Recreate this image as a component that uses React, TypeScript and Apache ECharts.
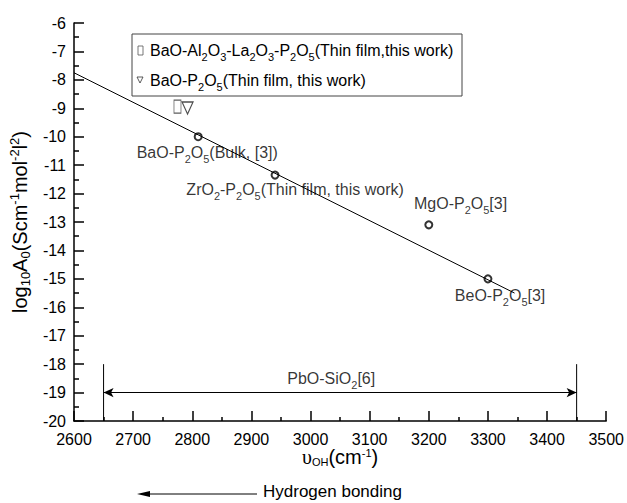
import React, { useEffect, useRef } from "react";
import * as echarts from "echarts";

// ---- data ----
const fitLine: number[][] = [
  [2600, -7.75],
  [3345, -15.5],
];
const pointX = [2810, 2940, 3200, 3300];
const pointY = [-10.0, -11.35, -13.1, -15.0];

const squareMark: number[][] = [[2775, -8.94]];
const triangleMark: number[][] = [[2792, -8.99]];

const labelTexts = [
  "BaO-P_2O_5(Bulk, [3])",
  "ZrO_2-P_2O_5(Thin film, this work)",
  "MgO-P_2O_5[3]",
  "BeO-P_2O_5[3]",
  "PbO-SiO_2[6]",
];
const labelX = [2706, 2790, 3175, 3244, 3035];
const labelY = [-10.57, -11.87, -12.36, -15.6, -18.52];

const rangeLeft: number[][] = [
  [2650, -18],
  [2650, -20],
];
const rangeRight: number[][] = [
  [3450, -18],
  [3450, -20],
];
const rangeArrowFrom = [2650, -19];
const rangeArrowTo = [3450, -19];

const legendTexts = [
  "BaO-Al_2O_3-La_2O_3-P_2O_5(Thin film,this work)",
  "BaO-P_2O_5(Thin film, this work)",
];
const yName = "log_{10}A_0(Scm^{-1}mol^{-2}l^2)";
const xNameSymbol = "υ";
const xNameRest = "_{OH}(cm^{-1})";
const bottomNote = "Hydrogen bonding";

// ---- helpers ----
function rich(src: string): string {
  let out = "";
  let buf = "";
  let i = 0;
  const flush = () => {
    if (buf) {
      out += `{m|${buf}}`;
      buf = "";
    }
  };
  while (i < src.length) {
    const c = src[i];
    if (c === "_" || c === "^") {
      flush();
      let t = "";
      if (src[i + 1] === "{") {
        const j = src.indexOf("}", i + 2);
        t = src.slice(i + 2, j);
        i = j + 1;
      } else {
        t = src[i + 1];
        i += 2;
      }
      out += `{${c === "_" ? "s" : "p"}|${t}}`;
    } else {
      buf += c;
      i++;
    }
  }
  flush();
  return out;
}

const FONT = "'Liberation Sans', Arial, sans-serif";
// lh: line box; offset: how far sub/sup centres shift from the main centre
function richStyles(main: number, small: number, lh: number, offset: number) {
  const subLh = lh - 2 * offset;
  return {
    m: { fontSize: main, fontFamily: FONT, color: "#000", lineHeight: lh, verticalAlign: "middle" },
    s: { fontSize: small, fontFamily: FONT, color: "#000", lineHeight: subLh, verticalAlign: "bottom" },
    p: { fontSize: small, fontFamily: FONT, color: "#000", lineHeight: subLh, verticalAlign: "top" },
    u: { fontSize: main, fontFamily: "'Liberation Serif', 'Times New Roman', serif", color: "#000", lineHeight: lh, verticalAlign: "middle" },
  };
}

export default function App() {
  const ref = useRef<HTMLDivElement>(null);

  useEffect(() => {
    if (!ref.current) return;
    const chart = echarts.init(ref.current, undefined, { renderer: "svg" });
    const labelRich = richStyles(16, 11, 24, 6.5);

    const labelData = labelTexts.map((t, i) => ({
      value: [labelX[i], labelY[i]],
      label: {
        show: true,
        formatter: rich(t),
        position: i === 4 ? "inside" : "right",
        distance: 0,
        align: i === 4 ? "center" : "left",
        verticalAlign: "middle",
        rich: labelRich,
      },
    }));

    const option: any = {
      animation: false,
      backgroundColor: "#fff",
      grid: { left: 74, right: 18, top: 23, bottom: 82, containLabel: false },
      xAxis: {
        type: "value",
        min: 2600,
        max: 3500,
        interval: 100,
        splitLine: { show: false },
        axisLine: { onZero: false, lineStyle: { color: "#000", width: 1.5 } },
        axisTick: { inside: true, length: 10, lineStyle: { color: "#000", width: 1.5 } },
        minorTick: { show: true, splitNumber: 2, length: 4, lineStyle: { color: "#000", width: 1.5 } },
        axisLabel: {
          color: "#000",
          fontSize: 16,
          fontFamily: FONT,
          margin: 10,
          formatter: (v: number) => String(v),
        },
        name: `{u|${xNameSymbol}}` + rich(xNameRest),
        nameLocation: "middle",
        nameGap: 26,
        nameMoveOverlap: false,
        nameTextStyle: { rich: richStyles(20, 11, 20, 6) },
      },
      yAxis: {
        type: "value",
        min: -20,
        max: -6,
        interval: 1,
        splitLine: { show: false },
        axisLine: { onZero: false, lineStyle: { color: "#000", width: 1.5 } },
        axisTick: { inside: true, length: 10, lineStyle: { color: "#000", width: 1.5 } },
        minorTick: { show: true, splitNumber: 2, length: 5, lineStyle: { color: "#000", width: 1.5 } },
        axisLabel: { color: "#000", fontSize: 16, fontFamily: FONT, margin: 8 },
        name: rich(yName),
        nameLocation: "middle",
        nameRotate: 90,
        nameGap: 42,
        nameMoveOverlap: false,
        nameTextStyle: { rich: richStyles(20, 13, 24, 6.5) },
      },
      series: [
        {
          type: "line",
          data: fitLine,
          symbol: "none",
          lineStyle: { color: "#000", width: 1 },
          silent: true,
        },
        {
          type: "scatter",
          data: pointX.map((x, i) => [x, pointY[i]]),
          symbol: "emptyCircle",
          symbolSize: 7,
          itemStyle: { color: "#000", borderColor: "#000", borderWidth: 1 },
          silent: true,
        },
        {
          type: "scatter",
          data: squareMark,
          symbol: "rect",
          symbolSize: [7, 13],
          itemStyle: { color: "rgba(0,0,0,0)", borderColor: "#333", borderWidth: 1 },
          silent: true,
        },
        {
          type: "scatter",
          data: triangleMark,
          symbol: "triangle",
          symbolRotate: 180,
          symbolSize: [11, 12],
          itemStyle: { color: "rgba(0,0,0,0)", borderColor: "#222", borderWidth: 1.2 },
          silent: true,
        },
        {
          type: "scatter",
          data: labelData,
          symbolSize: 0,
          silent: true,
        },
        {
          type: "line",
          data: rangeLeft,
          symbol: "none",
          lineStyle: { color: "#000", width: 1 },
          silent: true,
        },
        {
          type: "line",
          data: rangeRight,
          symbol: "none",
          lineStyle: { color: "#000", width: 1 },
          silent: true,
          markLine: {
            silent: true,
            symbol: ["arrow", "arrow"],
            symbolSize: [7, 10],
            label: { show: false },
            lineStyle: { color: "#000", width: 1, type: "solid" },
            data: [[{ coord: rangeArrowFrom }, { coord: rangeArrowTo }]],
          },
        },
      ],
      graphic: [
        {
          type: "rect",
          shape: { x: 132, y: 34, width: 330, height: 62 },
          style: { fill: "#fff", stroke: "#444", lineWidth: 1 },
          z: 10,
        },
        {
          type: "rect",
          shape: { x: 138, y: 46, width: 5, height: 9 },
          style: { fill: "none", stroke: "#555", lineWidth: 0.8 },
          z: 11,
        },
        {
          type: "polygon",
          shape: { points: [[137, 77], [143, 77], [140, 83]] },
          style: { fill: "none", stroke: "#333", lineWidth: 0.8 },
          z: 11,
        },
        {
          type: "text",
          x: 150,
          y: 50,
          z: 11,
          style: { text: rich(legendTexts[0]), rich: labelRich, align: "left", verticalAlign: "middle" },
        },
        {
          type: "text",
          x: 150,
          y: 80,
          z: 11,
          style: { text: rich(legendTexts[1]), rich: labelRich, align: "left", verticalAlign: "middle" },
        },
        {
          type: "line",
          shape: { x1: 148, y1: 494, x2: 257, y2: 494 },
          style: { stroke: "#000", lineWidth: 1 },
        },
        {
          type: "polygon",
          shape: { points: [[137, 494], [150, 491], [150, 497]] },
          style: { fill: "#000" },
        },
        {
          type: "text",
          x: 263,
          y: 491,
          style: { text: bottomNote, fontSize: 17, fontFamily: FONT, fill: "#000", align: "left", verticalAlign: "middle" },
        },
      ],
    };

    chart.setOption(option);
    return () => chart.dispose();
  }, []);

  return (
    <div
      ref={ref}
      style={{ position: "fixed", left: 0, top: 0, width: 627, height: 503, background: "#fff" }}
    />
  );
}
